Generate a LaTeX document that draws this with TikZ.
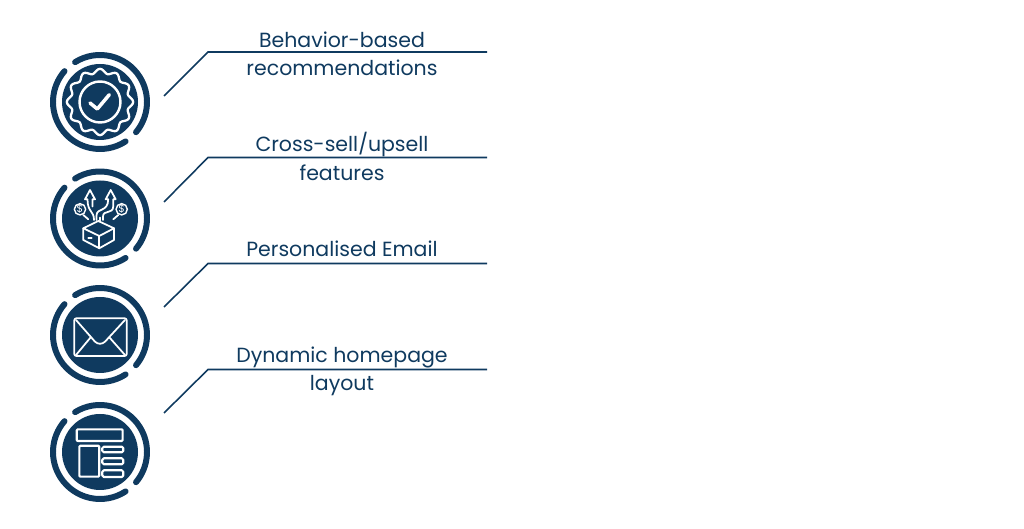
\documentclass[tikz,border=0pt]{standalone}
\usepackage{fontspec}
\setmainfont{Poppins}
\definecolor{navy}{HTML}{0F3A5F}
\tikzset{
    disc/.style={circle, fill=navy, minimum size=7.6cm/10, inner sep=0pt},
    leader/.style={navy, line width=.45pt},
    caption/.style={navy, align=center, font=\fontsize{5.83}{8}\selectfont},
    iconline/.style={white, line width=.5pt, line join=round, line cap=round},
    coin/.style={circle, draw=white, line width=.4pt, inner sep=0pt, minimum size=.105cm, white, font=\fontsize{3}{3}\selectfont},
    ringarc/.style={navy, line width=1.7pt, line cap=round},
    px/.style={x=.01cm, y=.01cm}
}
\begin{document}
\begin{tikzpicture}
    \useasboundingbox (0,0) rectangle (10.24,-5.29);
    % rings and discs
    \foreach \name/\ypos in {badge/-1.02,upsell/-2.185,mail/-3.35,layout/-4.52}{
        \node[disc] (\name) at (1,\ypos) {};
        \draw[ringarc] (\name.center) ++(122:.47) arc[start angle=122, end angle=-40, radius=.47];
        \draw[ringarc] (\name.center) ++(-57:.47) arc[start angle=-57, end angle=-221, radius=.47];
    }
    % leaders
    \foreach \i/\ya/\yb in {1/-.96/-.52,2/-2.02/-1.575,3/-3.07/-2.635,4/-4.13/-3.695}{
        \coordinate (lead\i) at (1.64,\ya);
        \coordinate (bend\i) at (2.08,\yb);
        \coordinate (end\i) at (4.87,\yb);
        \draw[leader] (lead\i)--(bend\i)--(end\i);
    }
    \node[caption] (cap1) at (3.42,-.54) {Behavior-based\\recommendations};
    \node[caption] (cap2) at (3.42,-1.565) {Cross-sell/upsell\\features};
    \node[caption] (cap3) at (3.42,-2.485) {Personalised Email};
    \node[caption] (cap4) at (3.42,-3.71) {Dynamic homepage\\layout};
    % badge
    \begin{scope}[shift={(badge.center)}, px]
        \draw[iconline, line width=.65pt] plot[smooth, domain=0:360, samples=121] (\x:{31+2.2*cos(12*\x)}) -- cycle;
        \draw[iconline, line width=.7pt] (0,0) circle (20.5);
        \draw[iconline, line width=1pt] (-10,-1)--(-2.7,-7)--(9.3,7.3);
    \end{scope}
    % box with arrows
    \begin{scope}[shift={(upsell.center)}, px]
        \draw[iconline] (-16.7,-9.8)--(-1.7,-2.5)--(14,-9.8)--(-.7,-17.5)--cycle;
        \draw[iconline] (-16.7,-9.8)--(-16.7,-21.5)--(-.7,-29.8)--(14,-21.5)--(14,-9.8);
        \draw[iconline] (-.7,-17.5)--(-.7,-29.8);
        \draw[iconline] (-11.7,-19.8)--(-8.3,-19.8);
        \draw[iconline] (-6,-1.5) .. controls (-6,8) and (-12.5,6) .. (-12.5,19.2)--(-15,19.2)--(-10,28.5)--(-5,19.2)--(-7.5,19.2)--(-7.5,12);
        \draw[iconline] (-3.5,-1.5)--(-3.5,3) .. controls (-3.5,11) and (8.2,6) .. (8.2,19.2)--(5.7,19.2)--(10.7,28.5)--(15.7,19.2)--(13.2,19.2)--(13.2,12) .. controls (13.2,4) and (3,9) .. (3,2)--(3,-1.5);
        \draw[iconline] (0,1)--(0,-2);
        \node[coin] (coinl) at (-20,9.2) {\$};
        \node[coin] (coinr) at (21.7,9.2) {\$};
        \draw[iconline] (-16.7,3.5)--(-11.7,-.8);
        \draw[iconline] (18.3,3.5)--(13.3,-.8);
    \end{scope}
    % envelope
    \begin{scope}[shift={(mail.center)}, px]
        \draw[iconline, rounded corners=.02cm] (-25.7,16.7) rectangle (26.7,-21);
        \draw[iconline] (-24,15)--(-5,-6.7) .. controls (-2,-9.5) and (2,-9.5) .. (5,-6.7)--(25,15);
        \draw[iconline] (-24,-20)--(-9.3,-2.3);
        \draw[iconline] (25,-20)--(9.3,-2.3);
    \end{scope}
    % page layout
    \begin{scope}[shift={(layout.center)}, px]
        \draw[iconline, line width=.6pt, rounded corners=.01cm] (-23.3,22.7) rectangle (22.7,11);
        \draw[iconline, line width=.6pt, rounded corners=.01cm] (-20.7,6.3) rectangle (-.7,-24.7);
        \draw[iconline, line width=.6pt, rounded corners=.015cm] (2.3,5.3) rectangle (23.3,-.3);
        \draw[iconline, line width=.6pt, rounded corners=.015cm] (2.3,-6.3) rectangle (23.3,-12.3);
        \draw[iconline, line width=.6pt, rounded corners=.015cm] (2.3,-18.3) rectangle (23.3,-25);
    \end{scope}
\end{tikzpicture}
\end{document}
